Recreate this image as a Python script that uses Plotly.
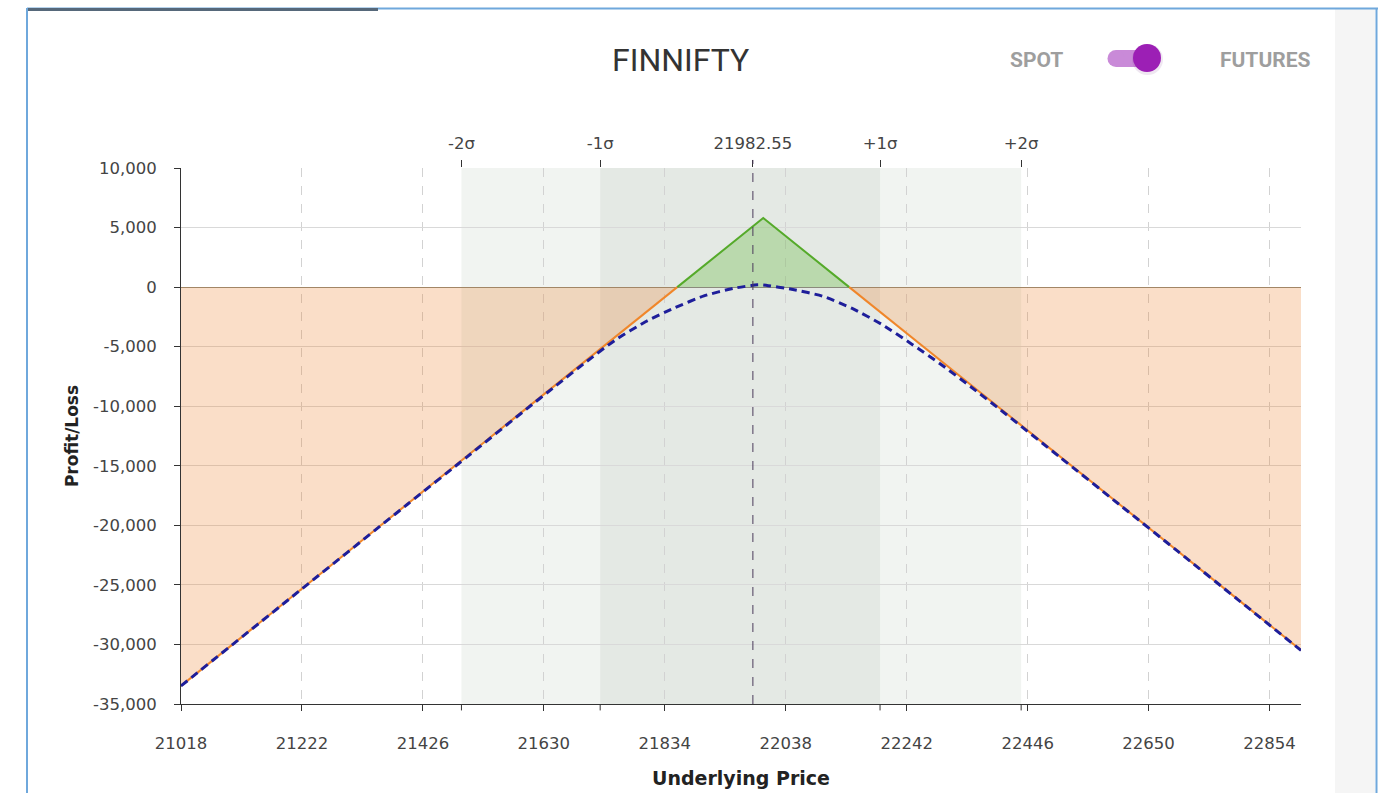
import plotly.graph_objects as go

# ---------------- data ----------------
x_ticks = [21018, 21222, 21426, 21630, 21834, 22038, 22242, 22446, 22650, 22854]
x_range = [21018, 22907]
y_ticks = [10000, 5000, 0, -5000, -10000, -15000, -20000, -25000, -30000, -35000]

spot = 21982.55
sigma_labels = ["-2σ", "-1σ", "+1σ", "+2σ"]
sigma_values = [21491, 21725, 22197, 22435]

# expiry payoff (short straddle)
payoff_x = [21018, 21855, 22000, 22145, 22907]
payoff_y = [-33480, 0, 5800, 0, -30480]

# T+0 payoff (dashed)
t0_x = [21018, 21200, 21400, 21500, 21600, 21650, 21700, 21750, 21800, 21850,
        21900, 21950, 21990, 22000, 22050, 22100, 22150, 22200, 22250, 22300,
        22350, 22400, 22500, 22600, 22700, 22800, 22907]
t0_y = [-33480, -26210, -18230, -14270, -10260, -8290, -6330, -4460, -2950, -1750,
        -740, -100, 190, 180, -200, -760, -1790, -3130, -4770, -6500,
        -8360, -10300, -14260, -18230, -22210, -26210, -30500]

title_text = "FINNIFTY"
toggle_left = "SPOT"
toggle_right = "FUTURES"

# ---------------- layout geometry ----------------
W, H = 1380, 793
PLOT_L, PLOT_R, PLOT_T, PLOT_B = 181, 1301, 168, 704  # page pixel coords
ML, MR, MT, MB = PLOT_L, W - PLOT_R, PLOT_T, H - PLOT_B
PW, PH = PLOT_R - PLOT_L, PLOT_B - PLOT_T


def px(x):
    return (x - PLOT_L) / PW


def py(y):
    return (PLOT_B - y) / PH


ORANGE = "#f0862a"
ORANGE_FILL = "rgba(235,123,35,0.25)"
GREEN = "#55aa2a"
GREEN_FILL = "rgba(100,185,60,0.32)"
NAVY = "#1e1e9a"

fig = go.Figure()

# split payoff into runs by sign
runs = []
for i in range(len(payoff_x) - 1):
    mid = (payoff_y[i] + payoff_y[i + 1]) / 2
    sign = mid >= 0
    if runs and runs[-1][0] == sign:
        runs[-1][1].append(payoff_x[i + 1])
        runs[-1][2].append(payoff_y[i + 1])
    else:
        runs.append([sign, [payoff_x[i], payoff_x[i + 1]], [payoff_y[i], payoff_y[i + 1]]])

for sign, xs, ys in runs:
    fig.add_trace(go.Scatter(
        x=xs, y=ys, mode="lines", fill="tozeroy",
        fillcolor=GREEN_FILL if sign else ORANGE_FILL,
        line=dict(color=GREEN if sign else ORANGE, width=2),
        hoverinfo="skip", showlegend=False,
    ))

fig.add_trace(go.Scatter(
    x=t0_x, y=t0_y, mode="lines",
    line=dict(color=NAVY, width=3, dash="8px,5px", shape="spline", smoothing=0.6),
    hoverinfo="skip", showlegend=False,
))

# invisible trace for top axis
fig.add_trace(go.Scatter(x=[spot], y=[0], xaxis="x2", mode="markers",
                         marker=dict(opacity=0), hoverinfo="skip", showlegend=False))

shapes = []
# sigma bands
shapes.append(dict(type="rect", xref="x", yref="paper", x0=sigma_values[0], x1=sigma_values[3],
                   y0=0, y1=1, fillcolor="#f1f4f1", line=dict(width=0), layer="below"))
shapes.append(dict(type="rect", xref="x", yref="paper", x0=sigma_values[1], x1=sigma_values[2],
                   y0=0, y1=1, fillcolor="#e4e9e4", line=dict(width=0), layer="below"))
# spot line
shapes.append(dict(type="line", xref="x", yref="paper", x0=spot, x1=spot, y0=0, y1=1.015,
                   line=dict(color="#4b3b5b", width=1, dash="dash"), layer="above"))
# extra bottom ticks at sigma positions
for v in sigma_values:
    shapes.append(dict(type="line", xref="x", yref="paper", x0=v, x1=v, y0=0, y1=-0.012,
                       line=dict(color="#333", width=1)))

# page frame
shapes.append(dict(type="rect", xref="paper", yref="paper", x0=px(1335), x1=px(1375),
                   y0=py(H + 5), y1=py(9), fillcolor="#f5f5f5", line=dict(width=0), layer="below"))
shapes.append(dict(type="line", xref="paper", yref="paper", x0=px(27), x1=px(27),
                   y0=py(8), y1=py(H + 5), line=dict(color="#6fa8dc", width=2)))
shapes.append(dict(type="line", xref="paper", yref="paper", x0=px(1376.5), x1=px(1376.5),
                   y0=py(8), y1=py(H + 5), line=dict(color="#6fa8dc", width=2)))
shapes.append(dict(type="line", xref="paper", yref="paper", x0=px(27), x1=px(1378),
                   y0=py(8.5), y1=py(8.5), line=dict(color="#6fa8dc", width=2)))
shapes.append(dict(type="rect", xref="paper", yref="paper", x0=px(28), x1=px(378),
                   y0=py(11), y1=py(8), fillcolor="#56687a", line=dict(width=0)))

# toggle switch
shapes.append(dict(type="rect", xref="paper", yref="paper", x0=px(1116), x1=px(1140),
                   y0=py(67), y1=py(50), fillcolor="#c98ad8", line=dict(width=0)))
shapes.append(dict(type="circle", xref="paper", yref="paper", x0=px(1107.5), x1=px(1124.5),
                   y0=py(67), y1=py(50), fillcolor="#c98ad8", line=dict(width=0)))
shapes.append(dict(type="circle", xref="paper", yref="paper", x0=px(1132), x1=px(1163),
                   y0=py(75), y1=py(44), fillcolor="rgba(120,60,140,0.12)", line=dict(width=0)))
shapes.append(dict(type="circle", xref="paper", yref="paper", x0=px(1133), x1=px(1161),
                   y0=py(72), y1=py(44), fillcolor="#9c1fb5", line=dict(width=0)))

annotations = [
    dict(text=title_text, xref="paper", yref="paper", x=px(680), y=py(60),
         showarrow=False, font=dict(family="Roboto", size=32, color="#333"),
         xanchor="center", yanchor="middle"),
    dict(text="<b>" + toggle_left + "</b>", xref="paper", yref="paper", x=px(1036), y=py(60),
         showarrow=False, font=dict(family="Roboto", size=21, color="#9e9e9e"),
         xanchor="center", yanchor="middle"),
    dict(text="<b>" + toggle_right + "</b>", xref="paper", yref="paper", x=px(1265), y=py(60),
         showarrow=False, font=dict(family="Roboto", size=21, color="#9e9e9e"),
         xanchor="center", yanchor="middle"),
]

TICKFONT = dict(family="DejaVu Sans", size=16.5, color="#444")

fig.update_layout(
    width=W, height=H,
    margin=dict(l=ML, r=MR, t=MT, b=MB, autoexpand=False),
    paper_bgcolor="white", plot_bgcolor="white",
    showlegend=False,
    shapes=shapes, annotations=annotations,
    xaxis=dict(
        range=x_range, tickvals=x_ticks, ticktext=[str(v) for v in x_ticks],
        ticks="outside", ticklen=6, tickcolor="#333", tickfont=TICKFONT,
        ticklabelstandoff=18,
        showline=True, linecolor="#333", linewidth=1,
        showgrid=True, gridcolor="#d2d2d2", griddash="dash", gridwidth=1,
        zeroline=False,
        title=dict(text="<b>Underlying Price</b>", font=dict(family="DejaVu Sans", size=19, color="#222"),
                   standoff=19),
    ),
    xaxis2=dict(
        range=x_range, overlaying="x", side="top", anchor="y",
        tickvals=sigma_values[:2] + [spot] + sigma_values[2:],
        ticktext=sigma_labels[:2] + [f"{spot:.2f}"] + sigma_labels[2:],
        ticks="outside", ticklen=7, tickcolor="#333", tickfont=TICKFONT,
        ticklabelstandoff=4,
        showline=False, showgrid=False, zeroline=False,
    ),
    yaxis=dict(
        range=[-35000, 10000], tickvals=y_ticks, ticktext=[f"{v:,}" for v in y_ticks],
        ticks="outside", ticklen=6, tickcolor="#333", tickfont=TICKFONT,
        ticklabelstandoff=14,
        showline=True, linecolor="#333", linewidth=1,
        showgrid=True, gridcolor="#d9d9d9", gridwidth=1,
        zeroline=True, zerolinecolor="#8a8a7c", zerolinewidth=1,
        title=dict(text="<b>Profit/Loss</b>", font=dict(family="DejaVu Sans", size=17, color="#222"),
                   standoff=10),
    ),
)

fig.write_html(
    "out.html",
    config={"displayModeBar": False},
    post_script="document.body.style.margin='0';document.body.style.overflow='hidden';",
)
